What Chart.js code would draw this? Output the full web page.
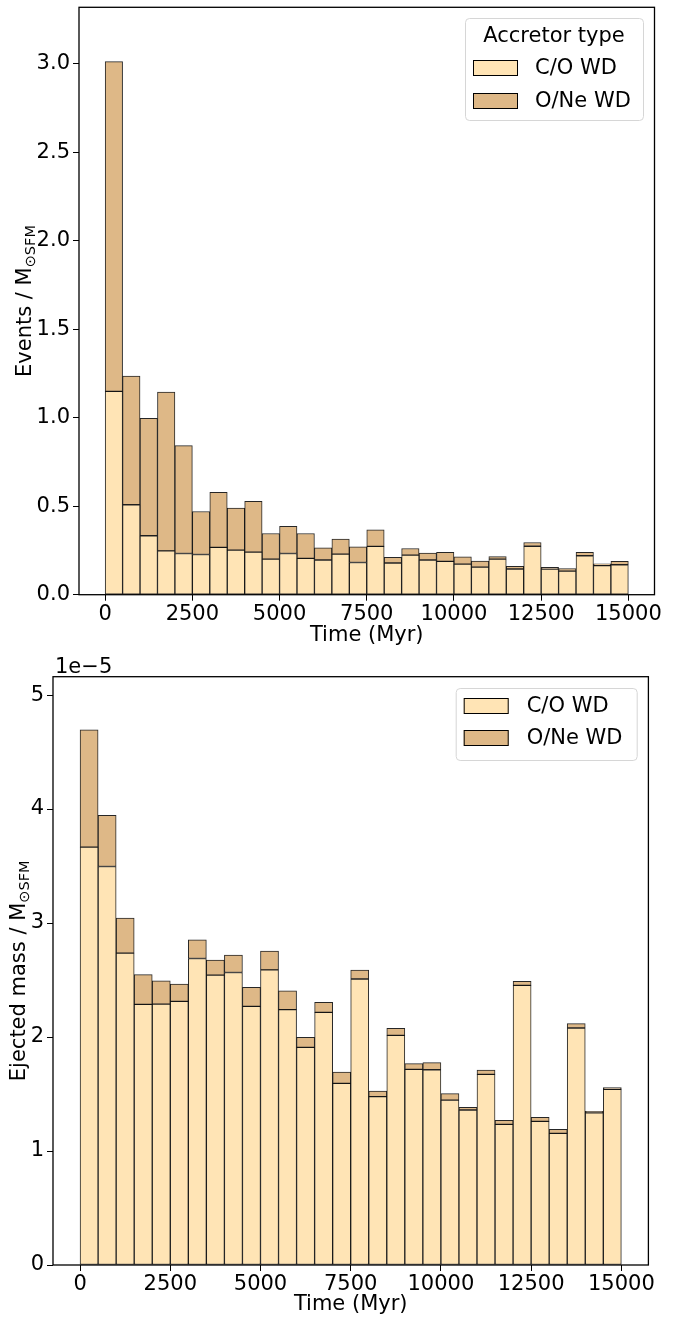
<!DOCTYPE html>
<html>
<head>
<meta charset="utf-8">
<script src="https://cdn.jsdelivr.net/npm/chart.js@4.4.1/dist/chart.umd.min.js"></script>
<style>
  html, body { margin: 0; padding: 0; background: #fff; }
  #wrap { position: relative; width: 680px; height: 1317px; background: #fff; }
  canvas { position: absolute; left: 0; }
  #eventsChart { top: 0; }
  #massChart { top: 655px; }
</style>
</head>
<body>
<div id="wrap">
  <canvas id="eventsChart" width="680" height="655"></canvas>
  <canvas id="massChart" width="680" height="662"></canvas>
</div>
<script>
// --- datos: histogramas apilados por tipo de enana blanca (bins de 500 Myr) ---
const binCenters = [250, 750, 1250, 1750, 2250, 2750, 3250, 3750, 4250, 4750,
                    5250, 5750, 6250, 6750, 7250, 7750, 8250, 8750, 9250, 9750,
                    10250, 10750, 11250, 11750, 12250, 12750, 13250, 13750, 14250, 14750];

const xTicks = [0, 2500, 5000, 7500, 10000, 12500, 15000];

// panel superior: eventos por masa formada
const eventsCO = [1.149, 0.508, 0.333, 0.248, 0.233, 0.227, 0.267, 0.252, 0.241, 0.201,
                  0.233, 0.205, 0.196, 0.229, 0.182, 0.273, 0.179, 0.224, 0.196, 0.188,
                  0.173, 0.156, 0.201, 0.145, 0.274, 0.145, 0.133, 0.220, 0.164, 0.169];
const eventsONe = [1.863, 0.727, 0.663, 0.897, 0.609, 0.243, 0.312, 0.237, 0.287, 0.145,
                   0.154, 0.141, 0.069, 0.085, 0.089, 0.094, 0.032, 0.037, 0.039, 0.051,
                   0.041, 0.034, 0.015, 0.015, 0.021, 0.009, 0.014, 0.019, 0.011, 0.019];
const eventsTicks = [0, 0.5, 1.0, 1.5, 2.0, 2.5, 3.0];

// panel inferior: masa eyectada (en unidades de 1e-5)
const massCO = [3.666, 3.496, 2.736, 2.287, 2.289, 2.313, 2.689, 2.543, 2.566, 2.269,
                2.589, 2.240, 1.909, 2.216, 1.594, 2.509, 1.477, 2.015, 1.716, 1.713,
                1.447, 1.360, 1.673, 1.234, 2.453, 1.260, 1.155, 2.079, 1.336, 1.541];
const massONe = [1.029, 0.448, 0.308, 0.261, 0.205, 0.152, 0.164, 0.132, 0.152, 0.167,
                 0.165, 0.166, 0.088, 0.088, 0.099, 0.079, 0.049, 0.061, 0.050, 0.062,
                 0.056, 0.023, 0.038, 0.035, 0.035, 0.035, 0.035, 0.038, 0.012, 0.015];
const massTicks = [0, 1, 2, 3, 4, 5];

const seriesLabels = ['C/O WD', 'O/Ne WD'];
const COLOR_CO = '#FFE4B5';
const COLOR_ONE = '#DEB887';
const EDGE = 'rgba(0, 0, 0, 0.85)';
const FAMILY = 'DejaVu Sans';
const FS = 21; // tamaño de fuente general

Chart.defaults.font.family = FAMILY;
Chart.defaults.color = '#000';

// --- plugin: marco, etiqueta del eje y con subíndice, leyenda y offset ---
const decoracion = {
    id: 'decor',
    afterDatasetsDraw(chart, args, opts) {
        const a = chart.chartArea;
        const ctx = chart.ctx;
        ctx.save();
        ctx.strokeStyle = '#000';
        ctx.lineWidth = 1.3;
        ctx.strokeRect(a.left, a.top, a.right - a.left, a.bottom - a.top);
        ctx.restore();
    },
    afterDraw(chart, args, opts) {
        const a = chart.chartArea;
        const ctx = chart.ctx;

        // etiqueta del eje y: "texto / M" + subíndice "⊙SFM"
        ctx.save();
        const cy = (a.top + a.bottom) / 2;
        ctx.translate(opts.yTitleX, cy);
        ctx.rotate(-Math.PI / 2);
        ctx.fillStyle = '#000';
        ctx.textBaseline = 'alphabetic';
        ctx.font = FS + 'px ' + FAMILY;
        const wMain = ctx.measureText(opts.yTitle).width;
        ctx.font = '14.5px ' + FAMILY;
        const wSub = ctx.measureText('⊙SFM').width;
        const x0 = -(wMain + wSub) / 2;
        ctx.font = FS + 'px ' + FAMILY;
        ctx.textAlign = 'left';
        ctx.fillText(opts.yTitle, x0, 0);
        ctx.font = '14.5px ' + FAMILY;
        ctx.fillText('⊙SFM', x0 + wMain, 4);
        ctx.restore();

        // texto de offset (1e−5)
        if (opts.offsetText) {
            ctx.save();
            ctx.font = FS + 'px ' + FAMILY;
            ctx.fillStyle = '#000';
            ctx.textAlign = 'left';
            ctx.textBaseline = 'alphabetic';
            ctx.fillText(opts.offsetText, a.left + 2, a.top - 4);
            ctx.restore();
        }

        // leyenda
        const lg = opts.legend;
        const bx = a.right - lg.right - lg.width;
        const by = a.top + lg.top;
        ctx.save();
        ctx.beginPath();
        ctx.roundRect(bx + 0.5, by + 0.5, lg.width, lg.height, 4);
        ctx.fillStyle = 'rgba(255, 255, 255, 0.8)';
        ctx.fill();
        ctx.strokeStyle = '#d6d6d6';
        ctx.lineWidth = 1;
        ctx.stroke();
        ctx.font = FS + 'px ' + FAMILY;
        ctx.fillStyle = '#000';
        if (lg.title) {
            ctx.textAlign = 'center';
            ctx.textBaseline = 'alphabetic';
            ctx.fillText(lg.title, bx + lg.width / 2, by + lg.titleBase);
        }
        chart.data.datasets.forEach((ds, i) => {
            const py = by + lg.rows[i];
            ctx.fillStyle = ds.backgroundColor;
            ctx.fillRect(bx + 8, py, 45, 16);
            ctx.strokeStyle = '#000';
            ctx.lineWidth = 1;
            ctx.strokeRect(bx + 8.5, py + 0.5, 44, 15);
            ctx.fillStyle = '#000';
            ctx.textAlign = 'left';
            ctx.textBaseline = 'middle';
            ctx.fillText(ds.label, bx + lg.textX, py + 9);
        });
        ctx.restore();
    }
};

function crearPanel(id, cfg) {
    const ctx = document.getElementById(id).getContext('2d');
    const mk = vals => binCenters.map((c, i) => ({ x: c, y: vals[i] }));
    return new Chart(ctx, {
        type: 'bar',
        data: {
            datasets: [{
                label: seriesLabels[0],
                data: mk(cfg.co),
                backgroundColor: COLOR_CO,
                borderColor: EDGE,
                borderWidth: 1,
                borderSkipped: false,
                barPercentage: 1,
                categoryPercentage: 1
            }, {
                label: seriesLabels[1],
                data: mk(cfg.one),
                backgroundColor: COLOR_ONE,
                borderColor: EDGE,
                borderWidth: 1,
                borderSkipped: false,
                barPercentage: 1,
                categoryPercentage: 1
            }]
        },
        options: {
            responsive: false,
            animation: false,
            devicePixelRatio: 1,
            layout: { padding: cfg.padding },
            plugins: {
                legend: { display: false },
                tooltip: { enabled: false },
                decor: {
                    yTitle: cfg.yTitle,
                    yTitleX: cfg.yTitleX,
                    offsetText: cfg.offsetText,
                    legend: cfg.legend
                }
            },
            scales: {
                x: {
                    type: 'linear',
                    stacked: true,
                    offset: false,
                    min: -750,
                    max: 15750,
                    afterBuildTicks: s => { s.ticks = xTicks.map(v => ({ value: v })); },
                    afterFit: s => {
                        s.height = cfg.xHeight;
                        s.paddingLeft = 0; s.paddingRight = 0;
                    },
                    grid: { display: true, offset: false, drawOnChartArea: false, drawTicks: true,
                            tickLength: 6, tickColor: '#000', tickWidth: 1 },
                    border: { display: false },
                    ticks: {
                        autoSkip: false, maxRotation: 0, padding: 1,
                        font: { size: FS }, color: '#000',
                        callback: v => String(v)
                    },
                    title: {
                        display: true, text: 'Time (Myr)', color: '#000',
                        font: { size: FS }, padding: { top: 0, bottom: cfg.xTitlePad }
                    }
                },
                y: {
                    stacked: true,
                    min: 0,
                    max: cfg.yMax,
                    afterBuildTicks: s => { s.ticks = cfg.yTicks.map(v => ({ value: v })); },
                    afterFit: s => {
                        s.width = cfg.yWidth;
                        s.paddingTop = 0; s.paddingBottom = 0;
                    },
                    grid: { display: true, drawOnChartArea: false, drawTicks: true,
                            tickLength: 6, tickColor: '#000', tickWidth: 1 },
                    border: { display: false },
                    ticks: {
                        padding: 3, font: { size: FS }, color: '#000',
                        callback: cfg.yFormat
                    }
                }
            }
        },
        plugins: [decoracion]
    });
}

document.addEventListener('DOMContentLoaded', () => {
    crearPanel('eventsChart', {
        co: eventsCO, one: eventsONe,
        yTicks: eventsTicks, yMax: 3.319,
        yFormat: v => v.toFixed(1),
        padding: { left: 0, right: 25.5, top: 7.3, bottom: 0 },
        yWidth: 79, xHeight: 60.3, xTitlePad: 7,
        yTitle: 'Events / M', yTitleX: 31,
        offsetText: null,
        legend: { width: 178, height: 102, right: 11.5, top: 10.7, title: 'Accretor type',
                  titleBase: 24, rows: [42, 75], textX: 70 }
    });
    crearPanel('massChart', {
        co: massCO, one: massONe,
        yTicks: massTicks, yMax: 5.161,
        yFormat: v => String(v),
        padding: { left: 0, right: 31.6, top: 21.7, bottom: 0 },
        yWidth: 53, xHeight: 52, xTitlePad: 0,
        yTitle: 'Ejected mass / M', yTitleX: 25,
        offsetText: '1e\u22125',
        legend: { width: 181, height: 72, right: 11.7, top: 11.3, title: null,
                  titleBase: 0, rows: [10, 42], textX: 71 }
    });
});
</script>
</body>
</html>
